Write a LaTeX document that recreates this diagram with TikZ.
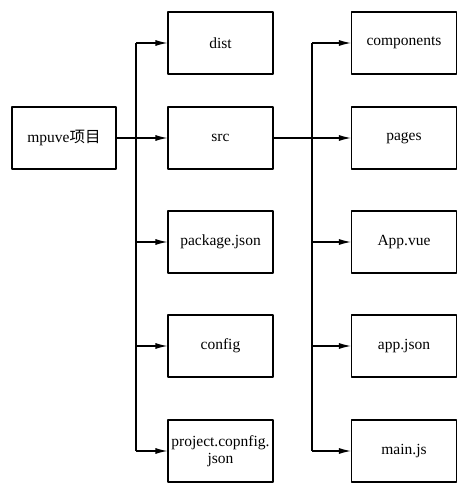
\documentclass[tikz,border=0pt]{standalone}
\usepackage{fontspec}
\setmainfont{Liberation Serif}
\newfontfamily\cjk{Noto Sans CJK SC}
\usetikzlibrary{arrows.meta}
\begin{document}
\begin{tikzpicture}[x=1pt,y=-1pt,line join=round,>={Latex[length=12pt,width=6pt]},
 font=\fontsize{15.5}{17.5}\selectfont,
 dirbox/.style={draw,line width=1.1pt,minimum width=105pt,minimum height=62pt,inner sep=1pt,align=center},
 link/.style={line width=1.1pt}]
 \useasboundingbox (0,0) rectangle (466,492);
 \def \xroot{64}\def \xmid{220.5}\def \xright{404}
 \node[dirbox,minimum width=104pt] (root) at (\xroot,138) {mpuve{\cjk 项目}};
 % middle column
 \node[dirbox] (dist) at (\xmid,43) {dist};
 \node[dirbox] (src) at (\xmid,138) {src};
 \node[dirbox] (pkg) at (\xmid,242) {package.json};
 \node[dirbox] (config) at (\xmid,346) {config};
 \node[dirbox] (proj) at (\xmid,451) {project.copnfig.\\json};
 % right column
 \node[dirbox] (comp) at (\xright,43) {components};
 \node[dirbox] (pages) at (\xright,138) {pages};
 \node[dirbox] (appvue) at (\xright,242) {App.vue};
 \node[dirbox] (appjson) at (\xright,346) {app.json};
 \node[dirbox] (mainjs) at (\xright,451) {main.js};
 \coordinate (busl) at (136,0);
 \coordinate (busr) at (312,0);
 \draw[link] (busl |- dist) -- (busl |- proj) (busr |- comp) -- (busr |- mainjs);
 \draw[link,->] (root.east) -- (src.west);
 \draw[link,->] (src.east) -- (pages.west);
 \foreach \n in {dist,pkg,config,proj}
  \draw[link,->] (busl |- \n) -- (\n.west);
 \foreach \n in {comp,appvue,appjson,mainjs}
  \draw[link,->] (busr |- \n) -- (\n.west);
\end{tikzpicture}
\end{document}
